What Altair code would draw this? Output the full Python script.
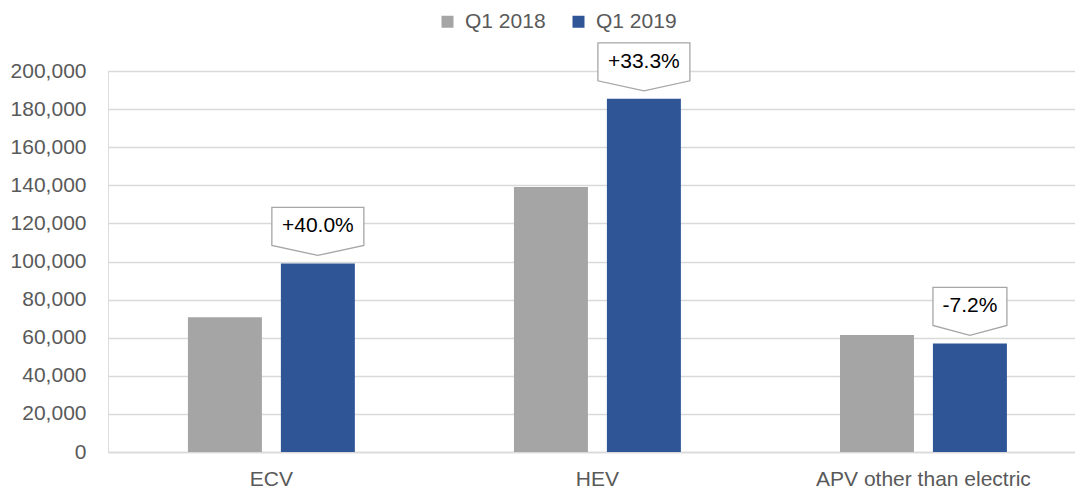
import altair as alt
import pandas as pd

FONT = "Liberation Sans"

categories = ["ECV", "HEV", "APV other than electric"]
series = ["Q1 2018", "Q1 2019"]
q1_2018 = [70700, 139100, 61400]
q1_2019 = [99000, 185400, 57000]
changes = ["+40.0%", "+33.3%", "-7.2%"]
y_ticks = [0, 20000, 40000, 60000, 80000, 100000, 120000, 140000, 160000, 180000, 200000]

rows = []
for c, a, b in zip(categories, q1_2018, q1_2019):
    rows.append({"category": c, "series": series[0], "value": a})
    rows.append({"category": c, "series": series[1], "value": b})
bars_df = pd.DataFrame(rows)
labels_df = pd.DataFrame({"category": categories, "series": series[1],
                          "value": q1_2019, "label": changes})

x_scale = alt.Scale(domain=categories, paddingInner=0.488, paddingOuter=0.227, align=0.54)
xoff_scale = alt.Scale(domain=series, paddingInner=0.204, paddingOuter=0)
y_scale = alt.Scale(domain=[0, 200000], nice=False, zero=True)

x_axis = alt.Axis(title=None, labelAngle=0, ticks=False, domainColor="#d9d9d9",
                  domainWidth=1.3, labelColor="#595959", labelFontSize=21,
                  labelPadding=16, labelFont=FONT, labelLimit=400)
y_axis = alt.Axis(title=None, values=y_ticks, format=",.0f", domain=False, ticks=False,
                  gridColor="#d9d9d9", gridWidth=1.3, labelColor="#595959",
                  labelFontSize=21, labelPadding=22, labelFont=FONT)

x_enc = alt.X("category:N", scale=x_scale, axis=x_axis)
xo_enc = alt.XOffset("series:N", scale=xoff_scale)
y_enc = alt.Y("value:Q", scale=y_scale, axis=y_axis)

bars = alt.Chart(bars_df).mark_bar().encode(
    x=x_enc,
    xOffset=xo_enc,
    y=y_enc,
    color=alt.Color("series:N",
                    scale=alt.Scale(domain=series, range=["#a5a5a5", "#2f5597"]),
                    legend=alt.Legend(orient="none", legendX=329, legendY=-60,
                                      direction="horizontal", title=None,
                                      symbolType="square", symbolSize=144,
                                      symbolStrokeWidth=0, labelFontSize=21,
                                      labelColor="#595959", labelFont=FONT,
                                      columnPadding=22, labelOffset=7, padding=0)),
)

path_wide = "M-1,-1.217L1,-1.217L1,-0.391L0,-0.174L-1,-0.391Z"
path_narrow = "M-0.804,-1.217L0.804,-1.217L0.804,-0.391L0,-0.174L-0.804,-0.391Z"

callouts = alt.Chart(labels_df).mark_point(
    size=8464, filled=True, fill="white", stroke="#a6a6a6", strokeWidth=1.3,
    opacity=1, fillOpacity=1, strokeOpacity=1
).encode(
    x=x_enc,
    xOffset=xo_enc,
    y=y_enc,
    shape=alt.Shape("category:N",
                    scale=alt.Scale(domain=categories,
                                    range=[path_wide, path_wide, path_narrow]),
                    legend=None),
)

texts = alt.Chart(labels_df).mark_text(
    dy=-37, fontSize=21, color="black", font=FONT, baseline="middle", align="center"
).encode(
    x=x_enc,
    xOffset=xo_enc,
    y=y_enc,
    text="label:N",
)

chart = alt.layer(bars, callouts, texts).properties(
    width=967, height=381,
    padding={"left": 108, "top": 71, "right": 0, "bottom": 44},
    autosize=alt.AutoSizeParams(type="none"),
).configure_view(stroke=None).configure(font=FONT)

chart.save("out.html", embed_options={"renderer": "svg", "actions": False})
